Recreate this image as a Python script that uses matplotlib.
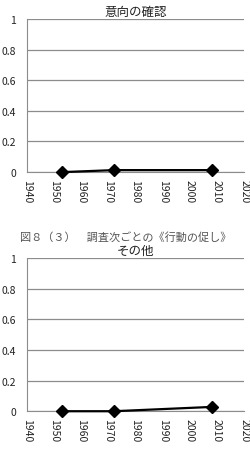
import matplotlib
matplotlib.use("Agg")
import matplotlib.pyplot as plt

plt.rcParams['font.family'] = ['Noto Sans CJK JP', 'DejaVu Sans']

years = [1953, 1972, 2008]
titles = ["意向の確認", "その他"]
values_top = [0.0, 0.013, 0.013]
values_bottom = [0.0, 0.0, 0.028]
caption = "図８（３）　調査次ごとの《行動の促し》"
xticks = [1940, 1950, 1960, 1970, 1980, 1990, 2000, 2010, 2020]
yticks = [0, 0.2, 0.4, 0.6, 0.8, 1]
ytick_labels = ["0", "0.2", "0.4", "0.6", "0.8", "1"]

fig = plt.figure(figsize=(2.51, 4.52), dpi=100)
fig.patch.set_facecolor("white")

def draw(ax, vals, title):
    ax.plot(years, vals, color="black", lw=1.6, marker="D", ms=6.5, zorder=3, clip_on=False)
    ax.set_xlim(1940, 2020)
    ax.set_ylim(0, 1)
    ax.set_xticks(xticks)
    ax.set_xticklabels([str(x) for x in xticks], rotation=270, fontsize=7.5)
    ax.set_yticks(yticks)
    ax.set_yticklabels(ytick_labels, fontsize=7.5)
    ax.grid(axis="y", color="#8c8c8c", lw=0.9)
    ax.set_axisbelow(True)
    for s in ["top", "right"]:
        ax.spines[s].set_visible(False)
    ax.spines["left"].set_color("#8c8c8c")
    ax.spines["bottom"].set_color("#8c8c8c")
    ax.tick_params(axis="both", length=0, pad=5, colors="#222222")
    ax.tick_params(axis="y", pad=8)
    ax.set_title(title, fontsize=9, pad=3, color="#222222")

ax1 = fig.add_axes([0.1076, 0.617, 0.865, 0.339])
draw(ax1, values_top, titles[0])
ax2 = fig.add_axes([0.1076, 0.088, 0.865, 0.339])
draw(ax2, values_bottom, titles[1])

fig.text(0.5, 1 - 237 / 452, caption, ha="center", va="center", fontsize=8, color="#555555")

fig.savefig("out.png", dpi=100, facecolor="white")
